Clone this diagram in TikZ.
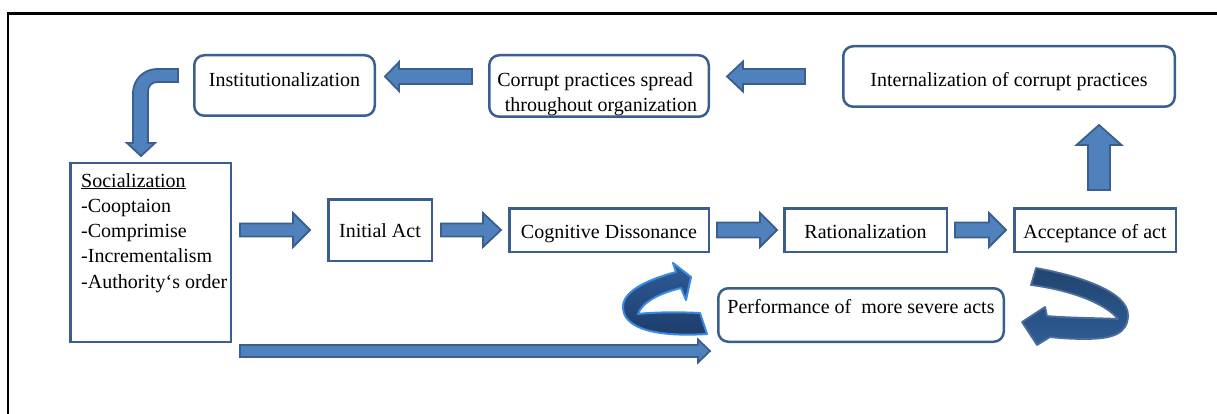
\documentclass[tikz,border=0pt]{standalone}
\usepackage{fontspec}
\setmainfont{Liberation Serif}
\usetikzlibrary{calc}
\definecolor{boxblue}{HTML}{3A5F8F}
\definecolor{arrfill}{HTML}{4F81BD}
\definecolor{arredge}{HTML}{3A5F8F}
\definecolor{curvdark}{HTML}{1E3C68}
\definecolor{curvmid}{HTML}{2D5C9A}
\definecolor{curvglow}{HTML}{3A8AE4}
\definecolor{curvedge}{HTML}{4A6D9C}
\definecolor{curvlow}{HTML}{2E5C96}
\definecolor{curvtop}{HTML}{22446F}
\newcommand\blockarrow[5]{%
  \path ($(#2)!#5!(#1)$) coordinate (bahd);
  \path[barrow] ($(#1)!#3!90:(#2)$) -- ($(bahd)!#3!90:(#2)$) -- ($(bahd)!#4!90:(#2)$) -- (#2)
    -- ($(bahd)!#4!-90:(#2)$) -- ($(bahd)!#3!-90:(#2)$) -- ($(#1)!#3!-90:(#2)$) -- cycle;}
\begin{document}
\begin{tikzpicture}[x=1pt,y=-1pt,font=\fontsize{20}{25}\selectfont,
  sbox/.style={draw=boxblue,line width=2.5pt,fill=white,inner sep=0pt},
  rbox/.style={sbox,rounded corners=10pt},
  barrow/.style={fill=arrfill,draw=arredge,line width=1.8pt,line join=miter},
  curvL/.style={draw=curvglow,line width=2pt,line join=round,top color=curvmid,bottom color=curvdark},
  curvR/.style={draw=curvedge,line width=1.8pt,line join=round,top color=curvtop,bottom color=curvlow},
  txt/.style={inner sep=0pt}]
\useasboundingbox (0,0) rectangle (1217,414);
\draw[line width=2.5pt] (8,414) -- (8,13.3) -- (1217,13.3);
% top row
\node[rbox,minimum width=180.5pt,minimum height=60.5pt,text height=14pt,text depth=11pt] (inst) at (284.5,85.5) {Institutionalization};
\node[rbox,minimum width=219.5pt,minimum height=61.5pt] (cor) at (599,86) {};
\node[txt,anchor=base] (cor1) at (595,87) {Corrupt practices spread};
\node[txt,anchor=base] (cor2) at (601,112) {throughout organization};
\node[rbox,minimum width=331.5pt,minimum height=60.5pt,text height=25pt,text depth=4pt] (intern) at (1009,76.5) {Internalization of corrupt practices};
% socialization
\node[sbox,minimum width=160.5pt,minimum height=178.5pt] (soc) at (150.5,252.5) {};
\node[txt,anchor=base west] (s1) at (81,187) {\underline{Socialization}};
\node[txt,anchor=base west] (s2) at (81,212) {-Cooptaion};
\node[txt,anchor=base west] (s3) at (81,237) {-Comprimise};
\node[txt,anchor=base west] (s4) at (81,262) {-Incrementalism};
\node[txt,anchor=base west] (s5) at (81,288) {-Authority‘s order};
% middle row
\node[sbox,minimum width=103.5pt,minimum height=61.5pt,text height=18pt,text depth=4pt] (ia) at (380,230) {Initial Act};
\node[sbox,minimum width=199.5pt,minimum height=43.5pt,text height=20pt,text depth=4pt] (cog) at (609,230) {Cognitive Dissonance};
\node[sbox,minimum width=162.5pt,minimum height=43.5pt,text height=20pt,text depth=4pt] (rat) at (865.5,230) {Rationalization};
\node[sbox,minimum width=161.5pt,minimum height=43.5pt,text height=20pt,text depth=4pt] (acc) at (1095,230) {Acceptance of act};
\node[rbox,minimum width=285.5pt,minimum height=53.5pt,text height=14pt,text depth=18pt] (perf) at (861,315) {Performance of\ \ more severe acts};
% straight block arrows
\coordinate (a1t) at ($(soc.east|-ia.center)+(8,0)$);
\coordinate (a1h) at ($(ia.west)+(-17,0)$);
\blockarrow{a1t}{a1h}{6.5pt}{17pt}{17pt}
\coordinate (a2t) at ($(ia.east)+(8,0)$);
\coordinate (a2h) at ($(cog.west)+(-7,0)$);
\blockarrow{a2t}{a2h}{6.5pt}{17pt}{18pt}
\coordinate (a3t) at ($(cog.east)+(7,0)$);
\coordinate (a3h) at ($(rat.west)+(-6,0)$);
\blockarrow{a3t}{a3h}{7.5pt}{17pt}{17pt}
\coordinate (a4t) at ($(rat.east)+(7,0)$);
\coordinate (a4h) at ($(acc.west)+(-7,0)$);
\blockarrow{a4t}{a4h}{7.5pt}{17pt}{17pt}
\coordinate (a5t) at ($(acc.north)+(4,-17)$);
\coordinate (a5h) at ($(intern.south-|a5t)+(0,17)$);
\blockarrow{a5t}{a5h}{11pt}{22.5pt}{20pt}
\coordinate (a6t) at ($(intern.west)+(-37,0)$);
\coordinate (a6h) at ($(cor.east|-intern.center)+(17,0)$);
\blockarrow{a6t}{a6h}{7.5pt}{15pt}{16pt}
\coordinate (a7t) at ($(cor.west|-intern.center)+(-16,0)$);
\coordinate (a7h) at ($(inst.east|-intern.center)+(9,0)$);
\blockarrow{a7t}{a7h}{7.5pt}{14.5pt}{14pt}
\coordinate (a8t) at ($(soc.south east)+(8,8)$);
\coordinate (a8h) at ($(perf.south west)+(-7,8)$);
\blockarrow{a8t}{a8h}{6pt}{11.5pt}{12pt}
% bent arrow from Institutionalization down to Socialization
\path[barrow] (178,69) -- (157,69) arc[start angle=270,end angle=180,radius=24] -- (133,143) -- (127,143)
  -- (141,156) -- (155,143) -- (148,143) -- (148,91) arc[start angle=180,end angle=270,radius=9] -- (178,82) -- cycle;
% curved arrows
\path[curvL] (700,313) -- (707,334) .. controls (660,337) and (622,330) .. (623,306)
  .. controls (624,290) and (650,279) .. (676,272) -- (673,263) -- (691,277) -- (686,300) -- (681,288)
  .. controls (660,293) and (642,302) .. (638,314) .. controls (655,312) and (680,312) .. (700,313) -- cycle;
\path[curvR] (1036,268) .. controls (1080,276) and (1128,292) .. (1128,315)
  .. controls (1128,334) and (1112,339) .. (1085,339) .. controls (1070,339) and (1058,338) .. (1050,337)
  -- (1037,345) -- (1022,322) -- (1045,307) -- (1047,316) .. controls (1070,318) and (1100,318) .. (1118,319)
  .. controls (1105,303) and (1070,290) .. (1031,285) -- cycle;
\end{tikzpicture}
\end{document}
